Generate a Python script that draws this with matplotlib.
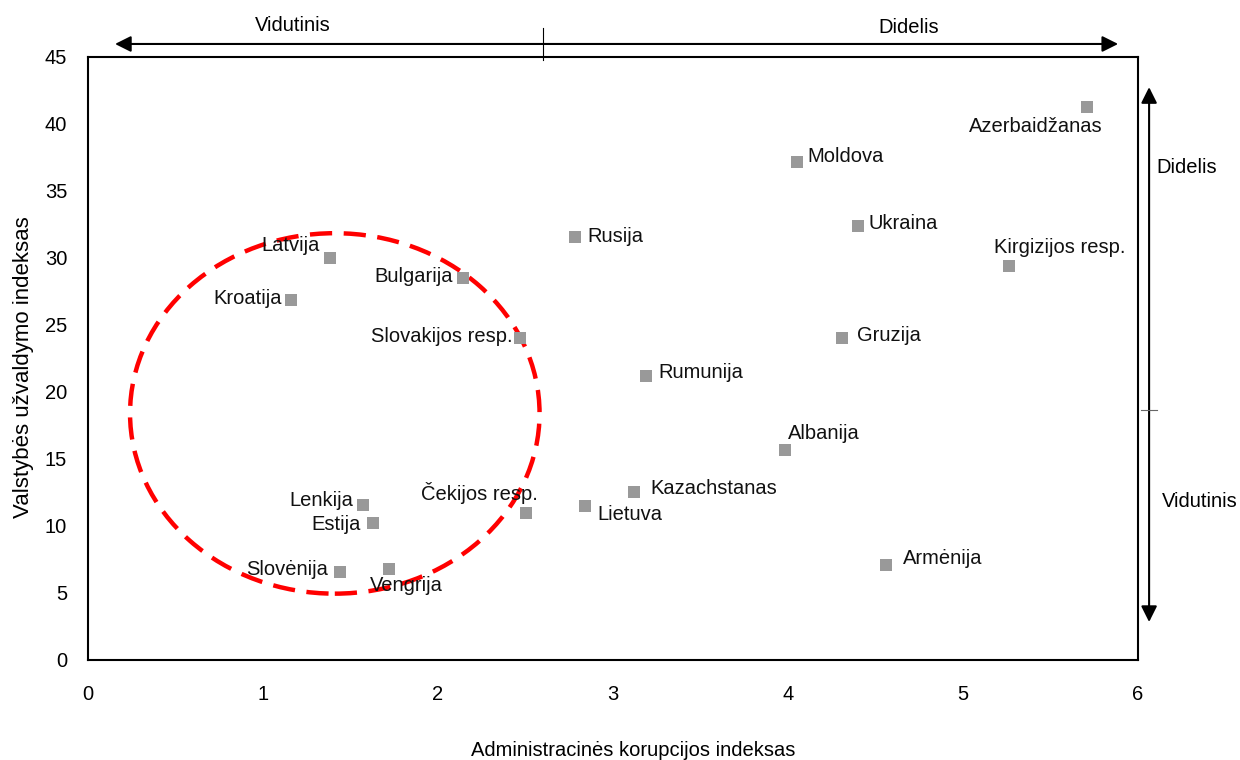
import matplotlib
matplotlib.use("Agg")
import matplotlib.pyplot as plt
from matplotlib.patches import Ellipse, FancyArrowPatch

plt.rcParams['font.family'] = ['Liberation Sans', 'DejaVu Sans']

# data
countries = ['Azerbaidžanas', 'Moldova', 'Ukraina', 'Kirgizijos resp.', 'Rusija',
             'Latvija', 'Bulgarija', 'Kroatija', 'Slovakijos resp.', 'Gruzija',
             'Rumunija', 'Albanija', 'Kazachstanas', 'Lietuva', 'Čekijos resp.',
             'Lenkija', 'Estija', 'Slovėnija', 'Vengrija', 'Armėnija']
corruption = [5.71, 4.05, 4.40, 5.26, 2.78,
              1.38, 2.14, 1.16, 2.47, 4.31,
              3.19, 3.98, 3.12, 2.84, 2.50,
              1.57, 1.63, 1.44, 1.72, 4.56]
capture = [41.3, 37.2, 32.4, 29.4, 31.6,
           30.0, 28.5, 26.9, 24.0, 24.0,
           21.2, 15.7, 12.5, 11.5, 11.0,
           11.6, 10.2, 6.6, 6.8, 7.1]

# label placement (offset in pixels, alignment)
label_pos = {
    'Azerbaidžanas': (15, -20, 'right'),
    'Moldova': (11, 5, 'left'),
    'Ukraina': (10, 2, 'left'),
    'Kirgizijos resp.': (-15, 19, 'left'),
    'Rusija': (13, 0, 'left'),
    'Latvija': (-10, 12, 'right'),
    'Bulgarija': (-10, 2, 'right'),
    'Kroatija': (-9, 1, 'right'),
    'Slovakijos resp.': (-8, 2, 'right'),
    'Gruzija': (15, 3, 'left'),
    'Rumunija': (12, 3, 'left'),
    'Albanija': (3, 16, 'left'),
    'Kazachstanas': (16, 4, 'left'),
    'Lietuva': (12, -9, 'left'),
    'Čekijos resp.': (12, 20, 'right'),
    'Lenkija': (-10, 4, 'right'),
    'Estija': (-13, -1, 'right'),
    'Slovėnija': (-12, 2, 'right'),
    'Vengrija': (-19, -17, 'left'),
    'Armėnija': (17, 6, 'left'),
}

fs = 14.5

fig = plt.figure(figsize=(12.4, 7.6), dpi=100)
ax = fig.add_axes([0.071, 0.1316, 0.8468, 0.7934])

ax.scatter(corruption, capture, marker='s', s=85, color='#999999', zorder=3, linewidths=0)

for name, x, y in zip(countries, corruption, capture):
    dx, dy, ha = label_pos[name]
    ax.annotate(name, (x, y), xytext=(dx, dy), textcoords='offset pixels',
                ha=ha, va='center', fontsize=fs, color='#111111', zorder=4)

ell = Ellipse((1.41, 18.4), 2.34, 26.9, fill=False, edgecolor='#ff0000',
              linewidth=3.2, linestyle=(0, (5, 2.6)), zorder=2)
ax.add_patch(ell)

ax.set_xlim(0, 6)
ax.set_ylim(0, 45)
ax.set_xticks(range(0, 7))
ax.set_yticks(range(0, 50, 5))
ax.tick_params(length=0, labelsize=fs)
ax.tick_params(axis='x', pad=18)
ax.tick_params(axis='y', pad=15)
for s in ax.spines.values():
    s.set_linewidth(1.5)
    s.set_color('black')

ax.set_xlabel('Administracinės korupcijos indeksas', fontsize=fs, labelpad=27, x=0.519)
ax.set_ylabel('Valstybės užvaldymo indeksas', fontsize=16, labelpad=8, y=0.486)

# top arrow
top = FancyArrowPatch((0.0257, 1.0216), (0.981, 1.0216), transform=ax.transAxes,
                      arrowstyle='<|-|>', mutation_scale=24, color='black',
                      linewidth=1.5, shrinkA=0, shrinkB=0, clip_on=False)
ax.add_patch(top)
ax.plot([0.433, 0.433], [0.995, 1.048], transform=ax.transAxes, color='black',
        linewidth=0.8, clip_on=False)
ax.text(0.195, 1.052, 'Vidutinis', transform=ax.transAxes, ha='center', va='center',
        fontsize=fs)
ax.text(0.782, 1.049, 'Didelis', transform=ax.transAxes, ha='center', va='center',
        fontsize=fs)

# right arrow
right = FancyArrowPatch((1.0105, 0.063), (1.0105, 0.950), transform=ax.transAxes,
                        arrowstyle='<|-|>', mutation_scale=24, color='black',
                        linewidth=1.5, shrinkA=0, shrinkB=0, clip_on=False)
ax.add_patch(right)
ax.plot([1.003, 1.018], [0.4146, 0.4146], transform=ax.transAxes, color='#666666',
        linewidth=0.8, clip_on=False)
ax.text(1.046, 0.817, 'Didelis', transform=ax.transAxes, ha='center', va='center',
        fontsize=fs)
ax.text(1.059, 0.263, 'Vidutinis', transform=ax.transAxes, ha='center', va='center',
        fontsize=fs)

fig.savefig('out.png', dpi=100)
